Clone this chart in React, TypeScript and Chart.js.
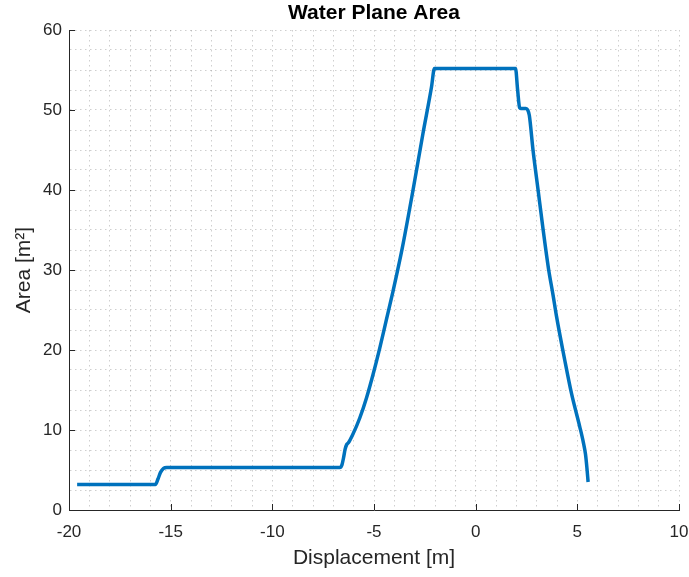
import React, { useEffect, useRef } from "react";
import { Chart, registerables } from "chart.js";

Chart.register(...registerables);

const xValues = [-19.6, -15.75, -15.62, -15.5, -15.35, -15.2, -6.68, -6.58, -6.5, -6.42, -6.34, -6.26, -6.05, -5.7, -5.37, -5.05, -4.72, -4.39, -4.06, -3.62, -3.08, -2.59, -2.17, -2.03, 1.96, 2.06, 2.16, 2.22, 2.47, 2.56, 2.64, 2.82, 3.07, 3.32, 3.58, 3.81, 3.97, 4.38, 4.71, 5.12, 5.3, 5.4, 5.47, 5.53];
const yValues = [3.2, 3.2, 3.9, 4.7, 5.2, 5.3, 5.3, 5.6, 6.5, 7.6, 8.2, 8.4, 9.4, 11.5, 14.0, 16.9, 20.2, 23.8, 27.4, 32.6, 40.0, 47.1, 52.9, 55.2, 55.2, 52.6, 50.3, 50.2, 50.2, 50.0, 49.3, 45.0, 40.0, 35.0, 30.2, 26.8, 24.3, 18.75, 14.6, 10.4, 8.4, 7.0, 5.3, 3.5];

const xTickLabels = [-20, -15, -10, -5, 0, 5, 10];
const yTickLabels = [0, 10, 20, 30, 40, 50, 60];

const AXIS_COLOR = "#262626";
const GRID_COLOR = "rgba(0,0,0,0.19)";
const FONT = "'Liberation Sans', Arial, Helvetica, sans-serif";

const inwardTicks = {
  id: "inwardTicks",
  afterDraw(chart: any) {
    const { ctx, chartArea, scales } = chart;
    ctx.save();
    ctx.strokeStyle = AXIS_COLOR;
    ctx.lineWidth = 1;
    ctx.beginPath();
    for (const v of xTickLabels) {
      const px = Math.round(scales.x.getPixelForValue(v)) + 0.5;
      ctx.moveTo(px, chartArea.bottom);
      ctx.lineTo(px, chartArea.bottom - 6);
    }
    for (const v of yTickLabels) {
      const py = Math.round(scales.y.getPixelForValue(v)) + 0.5;
      ctx.moveTo(chartArea.left, py);
      ctx.lineTo(chartArea.left + 6, py);
    }
    ctx.stroke();
    ctx.restore();
  },
};

export default function App() {
  const ref = useRef<HTMLCanvasElement>(null);
  useEffect(() => {
    document.body.style.margin = "0";
    const data = xValues.map((x, i) => ({ x, y: yValues[i] }));
    const chart = new Chart(ref.current!, {
      type: "line",
      data: {
        datasets: [
          {
            data,
            borderColor: "#0072BD",
            borderWidth: 3.5,
            pointRadius: 0,
            fill: false,
            cubicInterpolationMode: "monotone",
          },
        ],
      },
      plugins: [inwardTicks],
      options: {
        animation: false,
        responsive: false,
        layout: { padding: { left: 0, right: 10, top: 0, bottom: 0 } },
        plugins: {
          legend: { display: false },
          tooltip: { enabled: false },
          title: {
            display: true,
            text: "Water Plane Area",
            fullSize: false,
            color: "#000",
            font: { family: FONT, size: 21, weight: "bold" },
            padding: { top: 1, bottom: 3.8 },
          },
        },
        scales: {
          x: {
            type: "linear",
            min: -20,
            max: 10,
            afterFit: (s: any) => {
              s.height = 67;
              s.paddingLeft = 0;
              s.paddingRight = 0;
            },
            ticks: {
              stepSize: 1,
              autoSkip: false,
              maxRotation: 0,
              padding: 12,
              color: AXIS_COLOR,
              font: { family: FONT, size: 17 },
              callback: (v: any) => (xTickLabels.includes(Number(v)) ? String(v) : ""),
            },
            grid: {
              color: GRID_COLOR,
              lineWidth: 1,
              drawTicks: false,
            },
            border: { display: true, color: AXIS_COLOR, width: 1, dash: [1.5, 3.5] },
            title: {
              display: true,
              text: "Displacement [m]",
              color: AXIS_COLOR,
              font: { family: FONT, size: 21 },
              padding: { top: 0, bottom: 6 },
            },
          },
          y: {
            type: "linear",
            min: 0,
            max: 60,
            afterFit: (s: any) => {
              s.width = 69;
            },
            ticks: {
              stepSize: 2.5,
              autoSkip: false,
              padding: 7,
              color: AXIS_COLOR,
              font: { family: FONT, size: 17 },
              callback: (v: any) => (yTickLabels.includes(Number(v)) ? String(v) : ""),
            },
            grid: {
              color: GRID_COLOR,
              lineWidth: 1,
              drawTicks: false,
            },
            border: { display: true, color: AXIS_COLOR, width: 1, dash: [1.5, 3.5] },
            title: {
              display: true,
              text: "Area [m²]",
              color: AXIS_COLOR,
              font: { family: FONT, size: 21 },
              padding: { top: 12, bottom: 0 },
            },
          },
        },
      } as any,
    });
    return () => chart.destroy();
  }, []);
  return (
    <div style={{ width: 689, height: 577 }}>
      <canvas ref={ref} width={689} height={577} />
    </div>
  );
}
